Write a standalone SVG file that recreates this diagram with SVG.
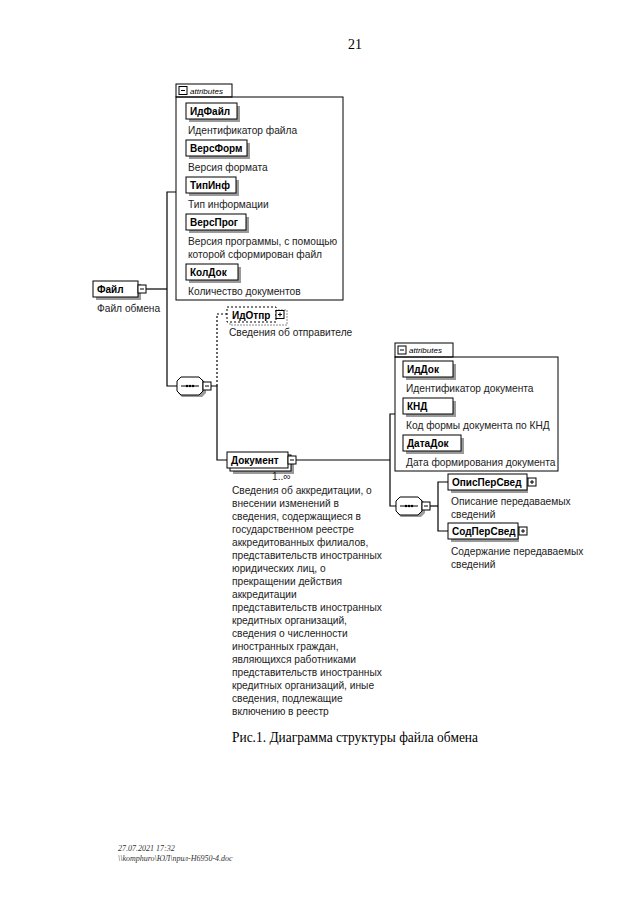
<svg xmlns="http://www.w3.org/2000/svg" width="640" height="905" viewBox="0 0 640 905">
<style>
.bg{fill:#fff}
.box{fill:#fff;stroke:#000;stroke-width:1}
.sh{fill:#9a9a9a}
.grp{fill:none;stroke:#000;stroke-width:1}
.ln{fill:none;stroke:#000;stroke-width:1.2}
.dot{fill:none;stroke:#000;stroke-width:1.2;stroke-dasharray:2 2}
.lbl{font-family:"Liberation Sans",Arial,sans-serif;font-weight:bold;font-size:10px;fill:#000}
.desc{font-family:"Liberation Sans",Arial,sans-serif;font-size:10.2px;fill:#222}
.tab{font-family:"Liberation Sans",Arial,sans-serif;font-style:italic;font-size:8px;fill:#000}
.ser{font-family:"Liberation Serif","Times New Roman",serif;fill:#000}
.foot{font-family:"Liberation Serif","Times New Roman",serif;font-style:italic;font-size:8px;fill:#333}
</style>
<defs>
<g id="minus"><rect x="0" y="0" width="8" height="8" class="box"/><line x1="2" y1="4" x2="6" y2="4" stroke="#000"/></g>
<g id="plus"><rect x="0" y="0" width="8" height="8" class="box"/><line x1="2" y1="4" x2="6" y2="4" stroke="#000"/><line x1="4" y1="2" x2="4" y2="6" stroke="#000"/></g>
<g id="seq"><path d="M5,2 H25 L29,6 V16 L25,20 H5 L1,16 V6 Z" class="sh"/><path d="M4,0 H22 L26,4 V14 L22,18 H4 L0,14 V4 Z" class="box"/><line x1="4" y1="9" x2="22" y2="9" stroke="#000"/><circle cx="10" cy="9" r="1.2"/><circle cx="13" cy="9" r="1.2"/><circle cx="16" cy="9" r="1.2"/></g>
</defs>
<rect class="bg" x="0" y="0" width="640" height="905"/>
<text class="ser" x="348" y="49" font-size="14">21</text>

<g id="connectors">
<polyline class="ln" points="146,289 167,289"/>
<polyline class="ln" points="176,192 167,192 167,386 177,386"/>
<polyline class="ln" points="211,386 217,386 217,460 227,460"/>
<polyline class="dot" points="217,386 217,314 227,314"/>
<polyline class="ln" points="296,460 390,460"/>
<polyline class="ln" points="395,414 390,414 390,506 396,506"/>
<polyline class="ln" points="430,506 438,506"/>
<polyline class="ln" points="448,482 438,482 438,531 448,531"/>
</g>

<g id="attrs1">
<rect class="grp" x="176" y="84" width="56" height="13"/>
<use href="#minus" x="179" y="86.5"/>
<text class="tab" x="190" y="94">attributes</text>
<rect class="grp" x="176" y="97" width="167" height="203"/>
</g>
<g id="IdFajl"><rect class="sh" x="189" y="106" width="51" height="16"/><rect class="box" x="186" y="103" width="51" height="16"/><text class="lbl" x="190" y="115">ИдФайл</text><text class="desc" x="188" y="134">Идентификатор файла</text></g>
<g id="VersForm"><rect class="sh" x="189" y="143" width="61" height="16"/><rect class="box" x="186" y="140" width="61" height="16"/><text class="lbl" x="190" y="152">ВерсФорм</text><text class="desc" x="188" y="171">Версия формата</text></g>
<g id="TipInf"><rect class="sh" x="189" y="180" width="50" height="16"/><rect class="box" x="186" y="177" width="50" height="16"/><text class="lbl" x="190" y="189">ТипИнф</text><text class="desc" x="188" y="208">Тип информации</text></g>
<g id="VersProg"><rect class="sh" x="189" y="217" width="60" height="16"/><rect class="box" x="186" y="214" width="60" height="16"/><text class="lbl" x="190" y="226">ВерсПрог</text><text class="desc" x="188" y="245">Версия программы, с помощью</text><text class="desc" x="188" y="258">которой сформирован файл</text></g>
<g id="KolDok"><rect class="sh" x="189" y="267" width="52" height="16"/><rect class="box" x="186" y="264" width="52" height="16"/><text class="lbl" x="190" y="276">КолДок</text><text class="desc" x="188" y="295">Количество документов</text></g>

<g id="Fajl"><rect class="sh" x="96" y="284" width="45" height="16"/><rect class="box" x="93" y="281" width="45" height="16"/><text class="lbl" x="97" y="293">Файл</text><use href="#minus" x="138" y="285"/><text class="desc" x="97" y="312">Файл обмена</text></g>

<g id="IdOtpr"><rect x="230" y="310" width="57" height="15" fill="none" stroke="#888" stroke-dasharray="2 1"/><rect x="227" y="307" width="49" height="15" fill="#fff" stroke="#000" stroke-dasharray="2 2"/><text class="lbl" x="232" y="319">ИдОтпр</text><use href="#plus" x="276" y="310.5"/><text class="desc" x="229" y="336">Сведения об отправителе</text></g>

<g id="seq1"><use href="#seq" x="177" y="377"/><use href="#minus" x="203" y="382"/></g>

<g id="Dokument"><rect class="sh" x="233" y="458" width="61" height="16"/><rect class="box" x="230" y="455" width="61" height="16"/><rect class="box" x="227" y="452" width="61" height="16"/><text class="lbl" x="231" y="464">Документ</text><use href="#minus" x="288" y="456"/><text class="desc" x="272" y="480" font-size="8">1..∞</text>
<text class="desc" x="232" y="494">Сведения об аккредитации, о</text>
<text class="desc" x="232" y="507">внесении изменений в</text>
<text class="desc" x="232" y="520">сведения, содержащиеся в</text>
<text class="desc" x="232" y="533">государственном реестре</text>
<text class="desc" x="232" y="546">аккредитованных филиалов,</text>
<text class="desc" x="232" y="559">представительств иностранных</text>
<text class="desc" x="232" y="572">юридических лиц, о</text>
<text class="desc" x="232" y="585">прекращении действия</text>
<text class="desc" x="232" y="598">аккредитации</text>
<text class="desc" x="232" y="611">представительств иностранных</text>
<text class="desc" x="232" y="624">кредитных организаций,</text>
<text class="desc" x="232" y="637">сведения о численности</text>
<text class="desc" x="232" y="650">иностранных граждан,</text>
<text class="desc" x="232" y="663">являющихся работниками</text>
<text class="desc" x="232" y="676">представительств иностранных</text>
<text class="desc" x="232" y="689">кредитных организаций, иные</text>
<text class="desc" x="232" y="702">сведения, подлежащие</text>
<text class="desc" x="232" y="715">включению в реестр</text>
</g>

<g id="attrs2">
<rect class="grp" x="395" y="343" width="58" height="14"/>
<use href="#minus" x="398" y="346"/>
<text class="tab" x="409" y="353">attributes</text>
<rect class="grp" x="395" y="357" width="163" height="114"/>
</g>
<g id="IdDok"><rect class="sh" x="406" y="364" width="50" height="16"/><rect class="box" x="403" y="361" width="50" height="16"/><text class="lbl" x="407" y="373">ИдДок</text><text class="desc" x="406" y="392">Идентификатор документа</text></g>
<g id="KND"><rect class="sh" x="406" y="401" width="50" height="16"/><rect class="box" x="403" y="398" width="50" height="16"/><text class="lbl" x="407" y="410">КНД</text><text class="desc" x="406" y="429">Код формы документа по КНД</text></g>
<g id="DataDok"><rect class="sh" x="406" y="438" width="58" height="16"/><rect class="box" x="403" y="435" width="58" height="16"/><text class="lbl" x="407" y="447">ДатаДок</text><text class="desc" x="406" y="466">Дата формирования документа</text></g>

<g id="seq2"><use href="#seq" x="396" y="497"/><use href="#minus" x="422" y="502"/></g>

<g id="OpisPerSved"><rect class="sh" x="451" y="477" width="77" height="16"/><rect class="box" x="448" y="474" width="79" height="16"/><text class="lbl" x="452" y="486">ОписПерСвед</text><use href="#plus" x="528" y="478"/><text class="desc" x="451" y="505">Описание передаваемых</text><text class="desc" x="451" y="518">сведений</text></g>
<g id="SodPerSved"><rect class="sh" x="451" y="526" width="68" height="16"/><rect class="box" x="448" y="523" width="70" height="16"/><text class="lbl" x="452" y="535">СодПерСвед</text><use href="#plus" x="519" y="527"/><text class="desc" x="451" y="555">Содержание передаваемых</text><text class="desc" x="451" y="568">сведений</text></g>

<text class="ser" x="232" y="742" font-size="15" textLength="246" lengthAdjust="spacingAndGlyphs">Рис.1. Диаграмма структуры файла обмена</text>
<text class="foot" x="118" y="851">27.07.2021 17:32</text>
<text class="foot" x="118" y="861">\\komphuro\ЮЛ\прил-Н6950-4.doc</text>
</svg>
